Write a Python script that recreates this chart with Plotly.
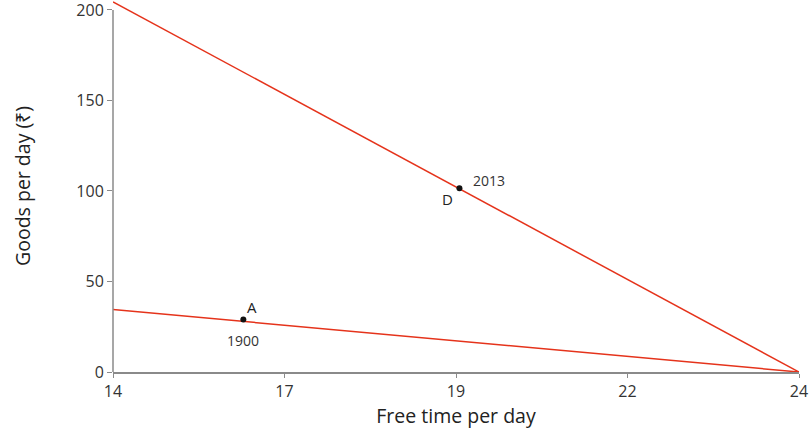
import plotly.graph_objects as go

# budget constraints (free time, goods)
free_1900 = [14, 24]
goods_1900 = [34.5, 0]
free_2013 = [14, 24]
goods_2013 = [204.5, 0]

# chosen points
pt_names = ['A', 'D']
pt_years = ['1900', '2013']
pt_x = [15.9, 19.05]
pt_y = [29, 101.5]

x_ticks = [14, 16.5, 19, 21.5, 24]
x_labels = ['14', '17', '19', '22', '24']
y_ticks = [0, 50, 100, 150, 200]

red = '#e5331b'
grey = '#8a8a8a'
fnt = 'Open Sans'

fig = go.Figure()
fig.add_trace(go.Scatter(x=free_1900, y=goods_1900, mode='lines',
                         line=dict(color=red, width=1.5), hoverinfo='skip'))
fig.add_trace(go.Scatter(x=free_2013, y=goods_2013, mode='lines',
                         line=dict(color=red, width=1.5), hoverinfo='skip'))
fig.add_trace(go.Scatter(x=pt_x, y=pt_y, mode='markers',
                         marker=dict(color='#111', size=6), cliponaxis=False))

# point labels
fig.add_annotation(x=pt_x[0], y=pt_y[0], text=pt_names[0], showarrow=False,
                   xshift=9, yshift=13, font=dict(size=15, color='#222', family=fnt))
fig.add_annotation(x=pt_x[0], y=pt_y[0], text=pt_years[0], showarrow=False,
                   xshift=0, yshift=-21, font=dict(size=14, color='#333', family=fnt))
fig.add_annotation(x=pt_x[1], y=pt_y[1], text=pt_names[1], showarrow=False,
                   xshift=-12, yshift=-11, font=dict(size=15, color='#222', family=fnt))
fig.add_annotation(x=pt_x[1], y=pt_y[1], text=pt_years[1], showarrow=False,
                   xshift=30, yshift=8, font=dict(size=14, color='#333', family=fnt))

# y axis line only up to 200
fig.add_shape(type='line', xref='paper', yref='y', x0=0, x1=0, y0=0, y1=200,
              line=dict(color=grey, width=1.5))

fig.update_layout(
    width=810, height=437,
    margin=dict(l=113, r=11, t=0, b=65),
    plot_bgcolor='white', paper_bgcolor='white',
    showlegend=False,
    font=dict(family=fnt, color='#333'),
)
fig.update_xaxes(
    range=[14, 24], tickvals=x_ticks, ticktext=x_labels,
    showgrid=False, zeroline=False, automargin=False,
    showline=True, linecolor=grey, linewidth=1.5,
    ticks='outside', ticklen=4, tickcolor=grey,
    tickfont=dict(size=16, color='#333'), ticklabeloverflow='allow',
    title=dict(text='Free time per day', font=dict(size=19.5, color='#222'), standoff=6),
)
fig.update_yaxes(
    range=[0, 205.5], tickvals=y_ticks,
    showgrid=False, zeroline=False, showline=False, automargin=False,
    ticks='outside', ticklen=5, tickcolor=grey,
    tickfont=dict(size=16, color='#333'), ticklabeloverflow='allow',
    title=dict(text='Goods per day (₹)', font=dict(size=19.5, color='#222'), standoff=40),
)

# drop the browser's default page margin so the figure fills the window
fig.write_html('out.html', config={'displayModeBar': False},
               post_script="document.body.style.margin='0';")
